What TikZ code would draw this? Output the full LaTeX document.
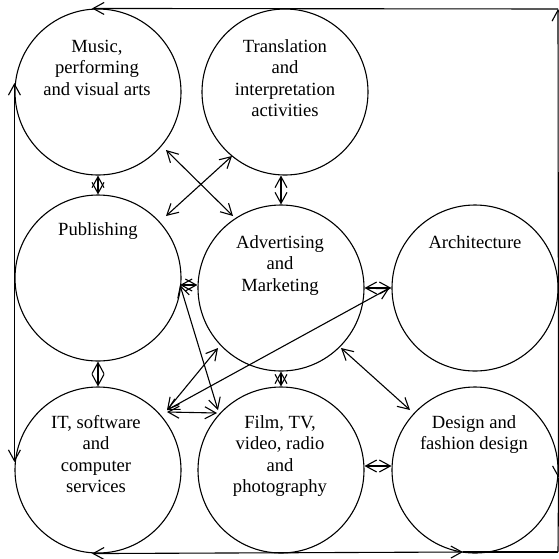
\documentclass[tikz,border=0pt]{standalone}
\usepackage{fontspec}
\setmainfont{Liberation Serif}
\usetikzlibrary{arrows.meta}
\begin{document}
\begin{tikzpicture}[x=1pt,y=-1pt,
  line width=1.1pt,
  >={Straight Barb[length=11pt,width=12pt]},
  sector/.style={circle,draw,minimum size=166pt,inner sep=0pt},
  lbl/.style={align=center,anchor=base,font=\fontsize{18.6}{21.5}\selectfont,inner sep=0pt},
  link/.style={<->}]
\useasboundingbox (0,0) rectangle (559,558);
% circles
\node[sector] (mus)  at (98,92)   {};
\node[sector] (tra)  at (285,92)  {};
\node[sector] (pub)  at (98,278)  {};
\node[sector] (adv)  at (281,288) {};
\node[sector] (arc)  at (475,288) {};
\node[sector] (it)   at (98,470)  {};
\node[sector] (film) at (281,470) {};
\node[sector] (des)  at (475,470) {};
% labels (anchor = baseline of last line)
\node[lbl] (tmus)  at (97,95)    {Music,\\performing\\and visual arts};
\node[lbl] (ttra)  at (285,116.5){Translation\\and\\interpretation\\activities};
\node[lbl] (tpub)  at (98,235)   {Publishing};
\node[lbl] (tadv)  at (280,291)  {Advertising\\and\\Marketing};
\node[lbl] (tarc)  at (475,248)  {Architecture};
\node[lbl] (tit)   at (96,492.5) {IT, software\\and\\computer\\services};
\node[lbl] (tfilm) at (280,492.5){Film, TV,\\video, radio\\and\\photography};
\node[lbl] (tdes)  at (474,449.5){Design and\\fashion design};
% outer frame
\coordinate (tr) at (558,9);
\coordinate (br) at (558,552);
\coordinate (b2) at (463,552);
\draw[->] (tr) -- ([xshift=-6pt]mus.north);
\draw[<->] ([yshift=-8pt]des.east) -- (tr);
\draw ([yshift=-8pt]des.east) -- (br);
\draw[<->] ([xshift=-6pt]it.south) -- (b2);
\draw (b2) -- (br);
\draw[<->] ([yshift=9pt]mus.west) -- ([yshift=8pt]it.west);
% short links between neighbours
\draw[link] (mus.south) -- (pub.north);
\draw[link] (adv.north |- tra.south) -- (adv.north);
\draw[link] (pub.south) -- (it.north);
\draw[link] (adv.south) -- (film.north);
\draw[link] ([shift={(82,7)}]pub.center) -- ([shift={(0,-3)}]adv.west);
\draw[link] (adv.east) -- (arc.west);
\draw[link] ([yshift=4pt]film.east) -- ([yshift=4pt]des.west);
% diagonal links
\draw[link] ([shift={(68,58)}]mus.center) -- ([shift={(-48,-72)}]adv.center);
\draw[link] ([shift={(-53,64)}]tra.center) -- ([shift={(68,-62)}]pub.center);
\draw[link] ([shift={(82,7)}]pub.center) -- ([shift={(-63,-60)}]film.center);
\draw[link] ([shift={(69,-60)}]it.center) -- ([shift={(-63,60)}]adv.center);
\draw[link] ([shift={(69,-58)}]it.center) -- ([shift={(-64,-57)}]film.center);
\draw[link] ([shift={(69,-60)}]it.center) -- ([xshift=-2pt]arc.west);
\draw[link] ([shift={(60,60)}]adv.center) -- ([shift={(-65,-60)}]des.center);
\end{tikzpicture}
\end{document}
